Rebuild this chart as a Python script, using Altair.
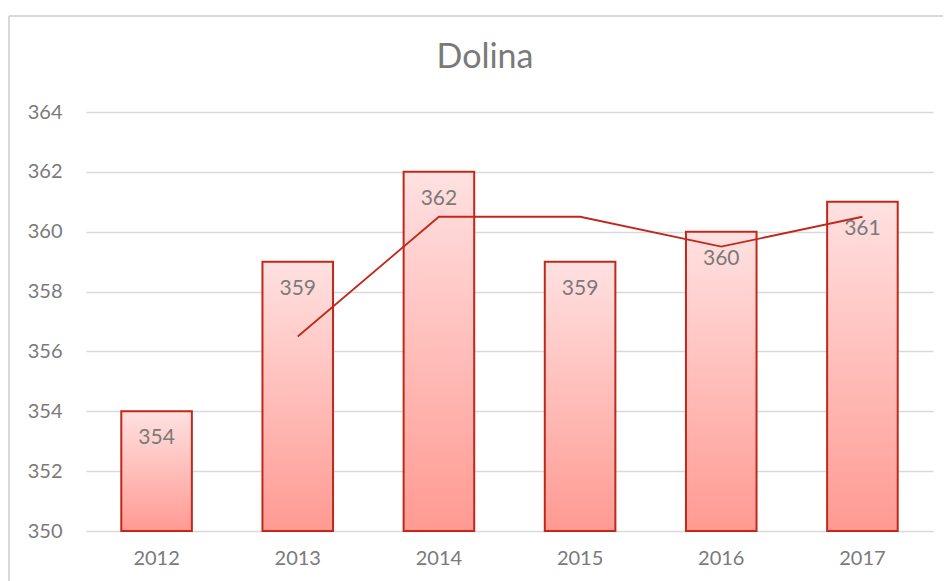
import altair as alt
import pandas as pd

years = ["2012", "2013", "2014", "2015", "2016", "2017"]
values = [354, 359, 362, 359, 360, 361]
trend_years = ["2013", "2014", "2015", "2016", "2017"]
trend_values = [356.5, 360.5, 360.5, 359.5, 360.5]
title_text = "Dolina"

bars_df = pd.DataFrame({"year": years, "value": values})
trend_df = pd.DataFrame({"year": trend_years, "trend": trend_values})

FONT = "Lato"
GRAY = "#7a7a7a"
x_enc = alt.X("year:N", sort=years, title=None,
              scale=alt.Scale(paddingInner=0.5, paddingOuter=0.25),
              axis=alt.Axis(labelAngle=0, labelFontSize=20, labelColor=GRAY,
                            labelFont=FONT, labelPadding=17, ticks=False, domain=False, grid=False))
y_scale = alt.Scale(domain=[350, 364], zero=False, nice=False)

grad = alt.Gradient(gradient="linear", x1=0, x2=0, y1=0, y2=1,
                    stops=[alt.GradientStop(color="#ffe1e1", offset=0),
                           alt.GradientStop(color="#ff9a92", offset=1)])

bars = alt.Chart(bars_df).mark_bar(color=grad, stroke="#c0281c", strokeWidth=2).encode(
    x=x_enc,
    y=alt.Y("value:Q", scale=y_scale, title=None,
            axis=alt.Axis(values=[350, 352, 354, 356, 358, 360, 362, 364], labelFontSize=20,
                          labelColor=GRAY, labelFont=FONT, labelPadding=24,
                          ticks=False, domain=False, gridColor="#d9d9d9", gridWidth=1.5)),
    y2=alt.datum(350),
)

labels = alt.Chart(bars_df).mark_text(dy=27, fontSize=21, color=GRAY, font=FONT).encode(
    x=alt.X("year:N", sort=years),
    y=alt.Y("value:Q", scale=y_scale),
    text=alt.Text("value:Q"),
)

line = alt.Chart(trend_df).mark_line(color="#c0281c", strokeWidth=1.8).encode(
    x=alt.X("year:N", sort=years),
    y=alt.Y("trend:Q", scale=y_scale),
)

frame_src = alt.Data(values=[{"k": 0}])
frame_top = alt.Chart(frame_src).mark_rule(color="#d9d9d9", strokeWidth=2).encode(
    x=alt.value(-77), x2=alt.value(880), y=alt.value(-96))
frame_left = alt.Chart(frame_src).mark_rule(color="#d9d9d9", strokeWidth=2).encode(
    x=alt.value(-77), y=alt.value(-96), y2=alt.value(480))
title = alt.Chart(frame_src).mark_text(fontSize=34, font=FONT, color=GRAY, baseline="middle").encode(
    x=alt.value(399), y=alt.value(-54), text=alt.value(title_text))

chart = alt.layer(frame_top, frame_left, bars, line, labels, title).properties(
    width=847, height=419,
    autosize=alt.AutoSizeParams(type="none"),
    padding={"left": 78, "top": 104, "right": 10, "bottom": 50},
).configure_view(stroke=None)

chart.save("out.html", embed_options={"renderer": "svg", "actions": False})
